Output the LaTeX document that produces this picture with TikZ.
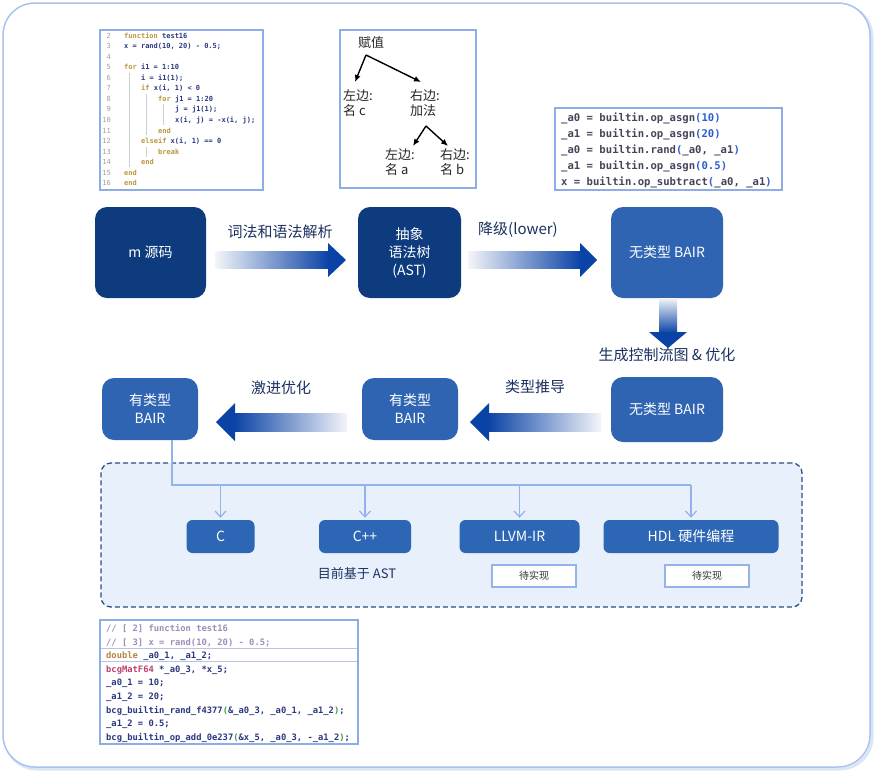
\documentclass[tikz,border=0pt]{standalone}
\usepackage{fontspec}
\setmainfont{Noto Sans CJK SC}
\newfontfamily\codefont{DejaVu Sans Mono}
\usetikzlibrary{arrows.meta,calc}
\definecolor{navy}{HTML}{0D3B7E}
\definecolor{midblue}{HTML}{2F64B2}
\definecolor{tgtblue}{HTML}{2C66B4}
\definecolor{arrowblue}{HTML}{0A43A6}
\definecolor{arrowlight}{HTML}{F4F5F9}
\definecolor{labeltext}{HTML}{1C3160}
\definecolor{framecol}{HTML}{A9C2EE}
\definecolor{frameshadow}{HTML}{DCE5F5}
\definecolor{codeborder}{HTML}{8DADE6}
\definecolor{dashfill}{HTML}{E8F0FC}
\definecolor{dashborder}{HTML}{2A4D85}
\definecolor{connector}{HTML}{94B3EA}
\definecolor{kw}{HTML}{B8963A}
\definecolor{codeblue}{HTML}{2A3780}
\definecolor{lnum}{HTML}{A0A0A0}
\definecolor{guidecol}{HTML}{CFCFCF}
\definecolor{bairtext}{HTML}{45455A}
\definecolor{bairparen}{HTML}{2E5FD0}
\definecolor{cmtcol}{HTML}{A08CB8}
\definecolor{dblcol}{HTML}{B88440}
\definecolor{typcol}{HTML}{C0406A}
\definecolor{grncol}{HTML}{3D9A4A}
\definecolor{sepcol}{HTML}{B8C4E0}
\newcommand\kwd[1]{\textcolor{kw}{#1}}
\newcommand\bpar[1]{\textcolor{bairparen}{#1}}
\newcommand\gpar[1]{\textcolor{grncol}{#1}}
\tikzset{
  flowbox/.style={rounded corners=12pt, inner sep=0pt, text=white, align=center, font=\fontsize{14}{18}\selectfont},
  darkbox/.style={flowbox, fill=navy},
  bluebox/.style={flowbox, fill=midblue},
  targetbox/.style={rounded corners=6pt, fill=tgtblue, text=white, inner sep=0pt, minimum height=33pt, font=\fontsize{14}{17}\selectfont},
  steplabel/.style={text=labeltext, inner sep=0pt, font=\fontsize{15}{18}\selectfont},
  codeframe/.style={draw=codeborder, line width=1.5pt, fill=white, inner sep=0pt},
  codeline/.style={anchor=base west, inner sep=0pt, text=codeblue, font=\codefont\bfseries\fontsize{7}{8}\selectfont},
  lnumline/.style={anchor=base east, inner sep=0pt, text=lnum, font=\codefont\fontsize{7}{8}\selectfont},
  bairline/.style={anchor=base west, inner sep=0pt, text=bairtext, font=\codefont\bfseries\fontsize{10.6}{12}\selectfont},
  cline/.style={anchor=base west, inner sep=0pt, text=codeblue, font=\codefont\bfseries\fontsize{8.8}{10}\selectfont},
  treetext/.style={anchor=west, inner sep=0pt, align=left, text=black!85, font=\fontsize{13}{14.5}\selectfont},
  treearrow/.style={line width=1.4pt, -{Latex[length=7pt,width=6pt]}},
  guide/.style={draw=guidecol, line width=0.6pt},
  conn/.style={draw=connector, line width=1.2pt},
  connarrow/.style={conn, -{Straight Barb[length=6pt,width=11pt]}},
  todobox/.style={draw=connector, line width=1.2pt, fill=white, inner sep=0pt, minimum width=84pt, minimum height=22pt, text=black!80, font=\fontsize{10}{12}\selectfont},
}
\begin{document}
\begin{tikzpicture}[x=1pt,y=-1pt]
\useasboundingbox (0,0) rectangle (880,777);
% outer frame
\draw[frameshadow, line width=3pt, rounded corners=32pt] (5,5) rectangle (872,769);
\draw[framecol, line width=1.5pt, fill=white, rounded corners=32pt] (3,3) rectangle (870,767);

% dashed group
\node[draw=dashborder, dash pattern=on 5pt off 3pt, line width=1.3pt, fill=dashfill, rounded corners=10pt, minimum width=701pt, minimum height=144pt, inner sep=0pt] (grp) at (451.5,535) {};

% ---- code box 1 ----
\node[codeframe, minimum width=163pt, minimum height=160pt] (code1) at (181.5,110) {};
\draw[guide] (129,73) -- (129,167);
\draw[guide] (146,94) -- (146,135);
\draw[guide] (146,147) -- (146,157);
\draw[guide] (163,104) -- (163,125);
\foreach \n/\ind/\txt [count=\k from 0] in {
  2/0/{\kwd{function} test16},
  3/0/{x = rand(10, 20) - 0.5;},
  4/0/{},
  5/0/{\kwd{for} i1 = 1:10},
  6/1/{i = i1(1);},
  7/1/{\kwd{if} x(i, 1) < 0},
  8/2/{\kwd{for} j1 = 1:20},
  9/3/{j = j1(1);},
  10/3/{x(i, j) = -x(i, j);},
  11/2/{\kwd{end}},
  12/1/{\kwd{elseif} x(i, 1) == 0},
  13/2/{\kwd{break}},
  14/1/{\kwd{end}},
  15/0/{\kwd{end}},
  16/0/{\kwd{end}}} {
  \node[lnumline] (ln\n) at ({111},{38+\k*10.57}) {\n};
  \node[codeline] (cl\n) at ({124+\ind*17},{38+\k*10.57}) {\txt};
}

% ---- AST picture ----
\node[codeframe, minimum width=136pt, minimum height=158pt] (astpic) at (408,109) {};
\node[treetext] (fz) at (358,43) {赋值};
\node[treetext] (lc) at (343,103) {左边:\\名 c};
\node[treetext] (rc) at (410,103) {右边:\\加法};
\node[treetext] (la) at (385,162) {左边:\\名 a};
\node[treetext] (rb) at (440,162) {右边:\\名 b};
\coordinate (ap1) at (366,55);
\coordinate (ap2) at (426,126);
\draw[treearrow] (ap1) -- (355,82);
\draw[treearrow] (ap1) -- (421,82);
\draw[treearrow] (ap2) -- (413,146);
\draw[treearrow] (ap2) -- (448,146);

% ---- BAIR code ----
\node[codeframe, minimum width=227pt, minimum height=82pt] (baircode) at (668.5,149) {};
\foreach \txt [count=\k from 0] in {
  {\_a0 = builtin.op\_asgn\bpar{(10)}},
  {\_a1 = builtin.op\_asgn\bpar{(20)}},
  {\_a0 = builtin.rand\bpar{(}\_a0, \_a1\bpar{)}},
  {\_a1 = builtin.op\_asgn\bpar{(0.5)}},
  {x = builtin.op\_subtract\bpar{(}\_a0, \_a1\bpar{)}}} {
  \node[bairline] (bl\k) at ({561},{121+\k*16}) {\txt};
}

% ---- bottom C code ----
\node[codeframe, minimum width=258pt, minimum height=124pt] (ccode) at (229,682) {};
\draw[sepcol, line width=1pt] (101,648) -- (357,648);
\draw[sepcol, line width=1pt] (101,661.5) -- (357,661.5);
\foreach \txt [count=\k from 0] in {
  {\textcolor{cmtcol}{// [ 2] function test16}},
  {\textcolor{cmtcol}{// [ 3] x = rand(10, 20) - 0.5;}},
  {\textcolor{dblcol}{double} \_a0\_1, \_a1\_2;},
  {\textcolor{typcol}{bcgMatF64} *\_a0\_3, *x\_5;},
  {\_a0\_1 = 10;},
  {\_a1\_2 = 20;},
  {bcg\_builtin\_rand\_f4377\gpar{(}\&\_a0\_3, \_a0\_1, \_a1\_2\gpar{)};},
  {\_a1\_2 = 0.5;},
  {bcg\_builtin\_op\_add\_0e237\gpar{(}\&x\_5, \_a0\_3, -\_a1\_2\gpar{)};}} {
  \node[cline] (cc\k) at ({106},{631.5+\k*13.6}) {\txt};
}

% ---- flow row 1 ----
\node[darkbox, minimum width=111pt, minimum height=91pt] (src) at (150.5,252.5) {m 源码};
\node[darkbox, minimum width=103pt, minimum height=91pt] (ast) at (409.5,252.5) {抽象\\语法树\\(AST)};
\node[bluebox, minimum width=112pt, minimum height=91pt] (bair1) at (667,252.5) {无类型 BAIR};

% ---- flow row 2 ----
\node[bluebox, minimum width=112pt, minimum height=65pt] (bair2) at (667,409.5) {无类型 BAIR};
\node[bluebox, minimum width=96pt, minimum height=62pt] (typed2) at (410,409) {有类型\\BAIR};
\node[bluebox, minimum width=96pt, minimum height=62pt] (typed1) at (150,409) {有类型\\BAIR};

% ---- fat arrows ----
% src -> ast
\shade[left color=arrowlight, right color=arrowblue] (215,251.5) rectangle (329,268.5);
\fill[arrowblue] (328,243) -- (346,260) -- (328,277) -- cycle;
% ast -> bair1
\shade[left color=arrowlight, right color=arrowblue] (468,251.5) rectangle (581,268.5);
\fill[arrowblue] (580,243) -- (597,260) -- (580,277) -- cycle;
% bair1 -> bair2
\shade[top color=arrowlight, bottom color=arrowblue] (659,298) rectangle (677,333);
\fill[arrowblue] (649,332) -- (668,348) -- (687,332) -- cycle;
% bair2 -> typed2
\shade[left color=arrowblue, right color=arrowlight] (488,413) rectangle (601,431);
\fill[arrowblue] (489,403) -- (470,422) -- (489,441) -- cycle;
% typed2 -> typed1
\shade[left color=arrowblue, right color=arrowlight] (234,413) rectangle (347,431);
\fill[arrowblue] (235,403) -- (216,422) -- (235,441) -- cycle;

\node[steplabel] (l1) at (280,232) {词法和语法解析};
\node[steplabel] (l2) at (518,230) {降级(lower)};
\node[steplabel] (l3) at (667,355) {生成控制流图 \& 优化};
\node[steplabel] (l4) at (535,387) {类型推导};
\node[steplabel] (l5) at (281,388) {激进优化};

% ---- targets ----
\node[targetbox, minimum width=68pt] (c) at (220.5,536.5) {C};
\node[targetbox, minimum width=92pt] (cpp) at (365,536.5) {C++};
\node[targetbox, minimum width=120pt] (llvm) at (519.5,536.5) {LLVM-IR};
\node[targetbox, minimum width=175pt] (hdl) at (691,536.5) {HDL 硬件编程};
\node[text=labeltext, inner sep=0pt, font=\fontsize{13}{15}\selectfont] (note) at (357,573) {目前基于 AST};
\node[todobox] (todo1) at (534,576) {待实现};
\node[todobox] (todo2) at (707,576) {待实现};

% ---- connectors ----
\coordinate (bus) at (172,485);
\draw[conn] (typed1.south -| bus) -- (bus) -- (bus -| hdl.north);
\draw[connarrow] (bus -| c.north) -- ([yshift=2pt]c.north);
\draw[connarrow] (bus -| cpp.north) -- ([yshift=2pt]cpp.north);
\draw[connarrow] (bus -| llvm.north) -- ([yshift=2pt]llvm.north);
\draw[connarrow] (bus -| hdl.north) -- ([yshift=2pt]hdl.north);
\end{tikzpicture}
\end{document}
